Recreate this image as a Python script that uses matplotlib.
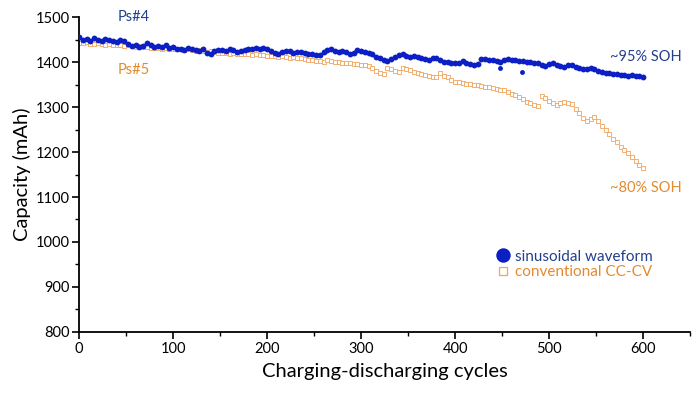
import numpy as np
import matplotlib
matplotlib.use("Agg")
import matplotlib.pyplot as plt
from matplotlib.lines import Line2D
from matplotlib.ticker import MultipleLocator

plt.rcParams['font.family'] = ['Lato', 'DejaVu Sans']

# cycles sampled every 4 cycles (0..600)
cycles = np.arange(0, 601, 4)

sinusoidal = [
    1455, 1450, 1452, 1448, 1453, 1450, 1446, 1452, 1449, 1447, 1445,
    1449, 1447, 1440, 1436, 1438, 1434, 1436, 1442, 1437, 1433, 1436, 1434, 1438, 1432, 1434,
    1430, 1428, 1427, 1431, 1429, 1426, 1424, 1428, 1420, 1418, 1424, 1427,
    1426, 1425, 1428, 1426, 1423, 1425, 1427, 1429, 1428, 1432, 1430, 1431, 1428,
    1425, 1420, 1419, 1422, 1424, 1425, 1421, 1423, 1422, 1420, 1418, 1419, 1416, 1415, 1422,
    1426, 1428, 1425, 1423, 1424, 1422, 1419, 1421, 1426, 1424,
    1422, 1420, 1417, 1412, 1408, 1404, 1402, 1406, 1412, 1416,
    1418, 1414, 1412, 1414, 1412, 1410, 1406, 1405, 1408, 1408, 1404, 1400, 1401, 1398, 1397,
    1399, 1402, 1398, 1396, 1393, 1395, 1406, 1407, 1405, 1404, 1402, 1401, 1404, 1406, 1404,
    1405, 1403, 1402, 1400, 1401, 1398, 1399, 1394, 1392, 1395, 1397, 1393, 1391, 1389, 1393,
    1394, 1390, 1386, 1385, 1384, 1386, 1385, 1381, 1377, 1376, 1375, 1374, 1373, 1371, 1372,
    1370, 1371, 1370, 1368, 1367,
]

# a few scattered outlier points of the sinusoidal series
outlier_cycles = [448, 471]
outlier_values = [1386, 1379]

conventional = [
    1443, 1442, 1444, 1441, 1440, 1442, 1441, 1439, 1440, 1438, 1439,
    1437, 1436, 1437, 1435, 1434, 1435, 1433, 1434, 1432, 1431, 1432, 1430, 1431, 1429, 1430,
    1429, 1428, 1427, 1428, 1426, 1425, 1426, 1424, 1423, 1424, 1422, 1421,
    1420, 1421, 1419, 1420, 1418, 1419, 1417, 1418, 1416, 1417, 1415, 1416, 1414,
    1414, 1413, 1412, 1413, 1411, 1410, 1411, 1409, 1408, 1406, 1405, 1404, 1403, 1402, 1401,
    1404, 1403, 1401, 1400, 1399, 1398, 1397, 1396, 1395, 1394,
    1394, 1391, 1387, 1381, 1376, 1373, 1386, 1384, 1381, 1378,
    1387, 1385, 1382, 1378, 1375, 1373, 1371, 1369, 1367, 1366, 1375, 1370, 1366, 1360, 1356,
    1355, 1353, 1352, 1351, 1350, 1348, 1347, 1345, 1344, 1342, 1340, 1339, 1338, 1334, 1330,
    1327, 1322, 1317, 1312, 1308, 1305, 1303, 1325, 1320, 1314, 1309, 1305, 1310, 1312, 1310,
    1306, 1296, 1286, 1276, 1268, 1274, 1277, 1268, 1258, 1250, 1240, 1230, 1222, 1212, 1204,
    1197, 1188, 1180, 1172, 1165,
]

x_ticks = [0, 100, 200, 300, 400, 500, 600]
y_ticks = [800, 900, 1000, 1100, 1200, 1300, 1400, 1500]

BLUE = '#0b1fc4'
ORANGE = '#f0a35c'
DARKBLUE = '#23408e'
TEXTORANGE = '#e48a2e'

fig = plt.figure(figsize=(7.0, 3.98), dpi=100)
ax = fig.add_axes([0.113, 0.166, 0.873, 0.791])

ax.plot(cycles, conventional, linestyle='none', marker='s', markersize=2.6,
        markerfacecolor='white', markeredgecolor=ORANGE, markeredgewidth=0.6, zorder=2)
ax.plot(cycles, sinusoidal, linestyle='none', marker='o', markersize=4.2,
        markerfacecolor=BLUE, markeredgecolor=BLUE, markeredgewidth=0, zorder=3)
ax.plot(outlier_cycles, outlier_values, linestyle='none', marker='o', markersize=3.5,
        markerfacecolor=BLUE, markeredgewidth=0, zorder=3)

ax.set_xlim(0, 650)
ax.set_ylim(800, 1500)
ax.set_xticks(x_ticks)
ax.set_yticks(y_ticks)
ax.xaxis.set_minor_locator(MultipleLocator(50))
ax.yaxis.set_minor_locator(MultipleLocator(50))
ax.tick_params(which='major', length=5, width=1.2, labelsize=10.5, color='black', pad=2)
ax.tick_params(which='minor', length=3, width=1.0, color='black')
for s in ['top', 'right']:
    ax.spines[s].set_visible(False)
for s in ['left', 'bottom']:
    ax.spines[s].set_linewidth(1.3)

ax.set_xlabel('Charging-discharging cycles', fontsize=14.5, labelpad=5)
ax.set_ylabel('Capacity (mAh)', fontsize=14.5, labelpad=3)

ax.text(41, 1500, 'Ps#4', color=DARKBLUE, fontsize=10.5, va='center', ha='left')
ax.text(41, 1382, 'Ps#5', color=TEXTORANGE, fontsize=10.5, va='center', ha='left')
ax.text(565, 1411, '~95% SOH', color=DARKBLUE, fontsize=10.5, va='center', ha='left')
ax.text(565, 1120, '~80% SOH', color=TEXTORANGE, fontsize=10.5, va='center', ha='left')

handles = [
    Line2D([], [], linestyle='none', marker='o', markersize=9.4, markerfacecolor=BLUE,
           markeredgecolor=BLUE),
    Line2D([], [], linestyle='none', marker='s', markersize=5.8, markerfacecolor='white',
           markeredgecolor=ORANGE, markeredgewidth=0.9),
]
leg = ax.legend(handles, ['sinusoidal waveform', 'conventional CC-CV'],
                loc='center left', bbox_to_anchor=(0.6815, 0.214), frameon=False,
                fontsize=11, handletextpad=0.3, handlelength=1.0,
                labelspacing=0.1, borderaxespad=0, borderpad=0)
leg.get_texts()[0].set_color(DARKBLUE)
leg.get_texts()[1].set_color(TEXTORANGE)

fig.savefig('out.png', dpi=100)
